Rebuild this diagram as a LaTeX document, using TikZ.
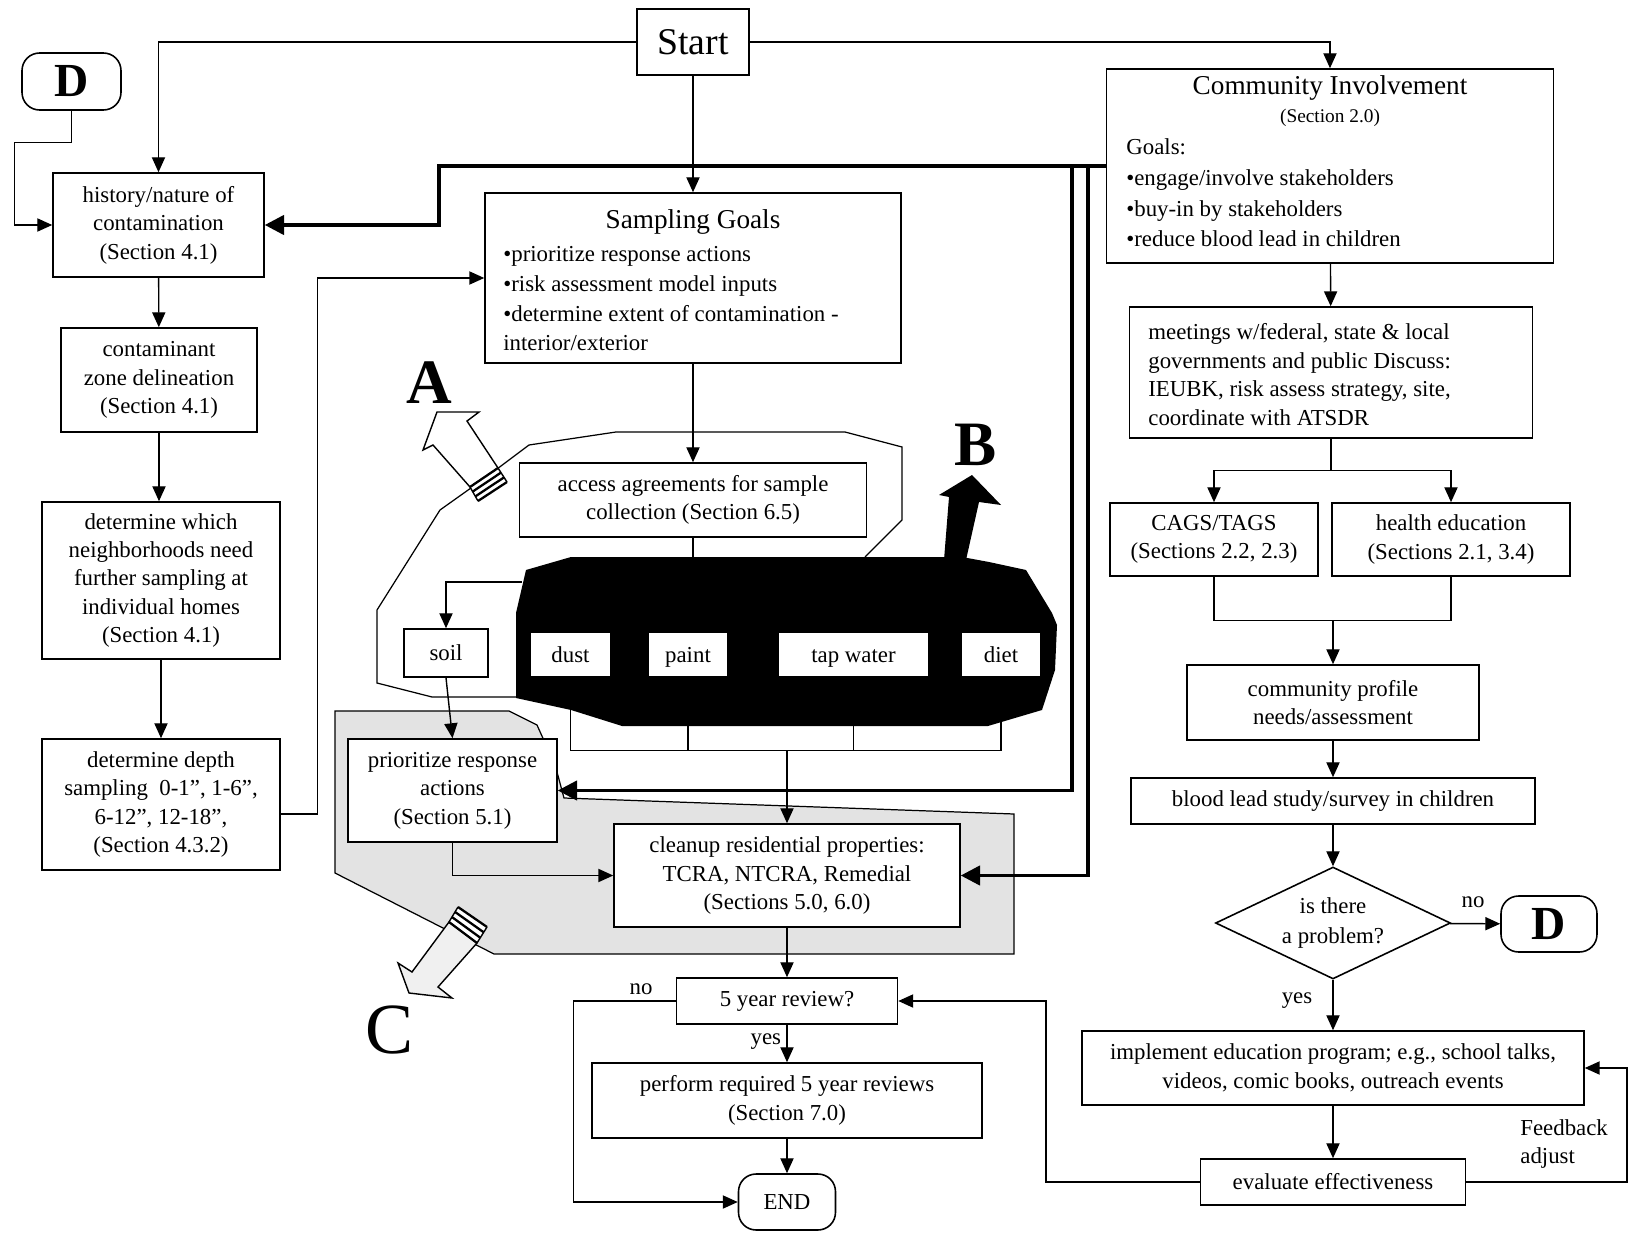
\documentclass[tikz,border=0pt]{standalone}
\usepackage{fontspec}
\setmainfont{Liberation Serif}
\usetikzlibrary{arrows.meta, positioning, shapes.geometric, calc}

\begin{document}
\begin{tikzpicture}[x=0.02cm, y=-0.02cm,
    font=\fontsize{13}{16.2}\selectfont,
    box/.style={draw, line width=0.9pt, fill=white, align=center, inner sep=1pt},
    media/.style={box, minimum height=0.9cm, text height=2.0ex, text depth=0.1ex},
    term/.style={box, rounded corners=10pt},
    txt/.style={inner sep=0pt, align=left},
    title/.style={inner sep=0pt, font=\fontsize{15.5}{18}\selectfont},
    letter/.style={inner sep=0pt, font=\fontsize{36}{36}\selectfont\bfseries},
    arr/.style={-{Triangle[length=8.5pt, width=7.5pt]}, line width=0.8pt},
    thickarr/.style={-{Triangle[length=11pt, width=11pt]}, line width=2pt},
    link/.style={line width=0.8pt},
    lbl/.style={inner sep=1pt}]

    \useasboundingbox (0,0) rectangle (1630,1233);

    % Shaded cleanup area (C)
    \draw[line width=0.7pt, fill=black!11] (335,711) -- (509,711) -- (537,725) -- (546,745) -- (557,772) -- (564,798)
        -- (1014,814) -- (1014,954) -- (494,954) -- (335,873) -- cycle;

    % Sampling area outline (A)
    \draw[line width=0.7pt] (865,557) -- (902,520) -- (902,447) -- (845,432) -- (616,432) -- (529,445) -- (485,478)
        -- (440,510) -- (377,610) -- (377,683) -- (432,697) -- (516,697);

    % Black media area (B)
    \fill (526,570) -- (571,557) -- (962,557) -- (989,562) -- (1026,570) -- (1052,613) -- (1057,625) -- (1055,670)
        -- (1042,710) -- (988,726) -- (622,726) -- (571,710) -- (516,698) -- (516,613) -- cycle;
    \fill (944,560) -- (949,497) -- (939,495) -- (972,475) -- (1001,505) -- (979,502) -- (966,560) -- cycle;

    % Block arrow A
    \draw[line width=0.8pt, fill=white] (470,487) -- (433,445) -- (423,450) -- (437,412) -- (479,412) -- (467,421) -- (498,468) -- cycle;
    \coordinate (a1) at (470,487);
    \coordinate (a2) at (498,468);
    \coordinate (a3) at (478,501);
    \coordinate (a4) at (507,482);
    \fill[white] (a1) -- (a2) -- (a4) -- (a3) -- cycle;
    \foreach \t in {0,0.33,0.67,1}
        \draw[line width=1.3pt] ($(a1)!\t!(a3)$) -- ($(a2)!\t!(a4)$);
    \draw[line width=0.8pt] (a1) -- (a3) (a2) -- (a4);

    % Block arrow C
    \draw[line width=0.8pt, fill=black!6] (449,922) -- (412,972) -- (398,963) -- (409,993) -- (452,998) -- (438,987) -- (477,943) -- cycle;
    \coordinate (c1) at (449,922);
    \coordinate (c2) at (477,943);
    \coordinate (c3) at (458,907);
    \coordinate (c4) at (487,927);
    \fill[white] (c1) -- (c2) -- (c4) -- (c3) -- cycle;
    \foreach \t in {0,0.33,0.67,1}
        \draw[line width=1.3pt] ($(c1)!\t!(c3)$) -- ($(c2)!\t!(c4)$);
    \draw[line width=0.8pt] (c1) -- (c3) (c2) -- (c4);

    % Area letters
    \node[letter] (la) at (429,383) {A};
    \node[letter] (lb) at (976,445) {B};
    \node[inner sep=0pt, font=\fontsize{41}{41}\selectfont] (lc) at (390,1030) {C};

    % Start and left column
    \node[box, minimum width=2.24cm, minimum height=1.32cm, font=\fontsize{21.5}{24}\selectfont] (start) at (693,42) {Start};
    \node[term, minimum width=1.98cm, minimum height=1.14cm, font=\fontsize{27}{27}\selectfont\bfseries] (d1) at (71.5,81.5) {D};
    \node[box, minimum width=4.22cm, minimum height=2.08cm] (hist) at (158.5,225) {history/nature of\\contamination\\(Section 4.1)};
    \node[box, minimum width=3.92cm, minimum height=2.08cm] (cont) at (159,380) {contaminant\\zone delineation\\(Section 4.1)};
    \node[box, minimum width=4.76cm, minimum height=3.14cm] (which) at (161,580.5) {determine which\\neighborhoods need\\further sampling at\\individual homes\\(Section 4.1)};
    \node[box, minimum width=4.76cm, minimum height=2.62cm] (depth) at (161,804.5) {determine depth\\sampling\ \ 0-1'', 1-6'',\\6-12'', 12-18'',\\(Section 4.3.2)};

    % Sampling goals
    \node[box, minimum width=8.32cm, minimum height=3.4cm] (sg) at (693,278) {};
    \node[title] (sgtitle) at (693,222) {Sampling Goals};
    \node[txt, anchor=west, font=\fontsize{13}{16.9}\selectfont] (sgitems) at (503,299)
        {•prioritize response actions\\•risk assessment model inputs\\•determine extent of contamination -\\interior/exterior};

    % Sampling steps
    \node[box, minimum width=6.94cm, minimum height=1.48cm] (access) at (693,500) {access agreements for sample\\collection (Section 6.5)};
    \node[media, minimum width=1.68cm, minimum height=0.96cm] (soil) at (446,653) {soil};
    \node[media, minimum width=1.62cm] (dust) at (570.5,654.5) {dust};
    \node[media, minimum width=1.6cm] (paint) at (688,654.5) {paint};
    \node[media, minimum width=3.02cm] (tap) at (853.5,654.5) {tap water};
    \node[media, minimum width=1.6cm] (diet) at (1001,654.5) {diet};
    \node[box, minimum width=4.18cm, minimum height=2.06cm] (prio) at (452.5,790.5) {prioritize response\\actions\\(Section 5.1)};
    \node[box, minimum width=6.92cm, minimum height=2.06cm] (clean) at (787,875.5) {cleanup residential properties:\\TCRA, NTCRA, Remedial\\(Sections 5.0, 6.0)};
    \node[box, minimum width=4.42cm, minimum height=0.92cm] (review) at (787,1001) {5 year review?};
    \node[box, minimum width=7.8cm, minimum height=1.5cm] (perform) at (787,1100.5) {perform required 5 year reviews\\(Section 7.0)};
    \node[term, minimum width=1.94cm, minimum height=1.12cm] (finish) at (787,1202) {END};

    % Community involvement column
    \node[box, minimum width=8.94cm, minimum height=3.88cm] (ci) at (1330,166) {};
    \node[title] (cititle) at (1330,88) {Community Involvement};
    \node[inner sep=0pt, font=\fontsize{11}{12}\selectfont] (cisec) at (1330,118) {(Section 2.0)};
    \node[txt, anchor=west, font=\fontsize{13}{17.5}\selectfont] (ciitems) at (1126,193)
        {Goals:\\•engage/involve stakeholders\\•buy-in by stakeholders\\•reduce blood lead in children};
    \node[box, minimum width=8.06cm, minimum height=2.62cm] (meet) at (1331,372.5) {};
    \node[txt, anchor=west] (meettext) at (1148,374.5)
        {meetings w/federal, state \& local\\governments and public Discuss:\\IEUBK, risk assess strategy, site,\\coordinate with ATSDR};
    \node[box, minimum width=4.16cm, minimum height=1.46cm] (cags) at (1214,539.5) {CAGS/TAGS\\(Sections 2.2, 2.3)};
    \node[box, minimum width=4.76cm, minimum height=1.46cm] (health) at (1451,539.5) {health education\\(Sections 2.1, 3.4)};
    \node[box, minimum width=5.84cm, minimum height=1.5cm] (prof) at (1333,702.5) {community profile\\needs/assessment};
    \node[box, minimum width=8.08cm, minimum height=0.92cm] (blood) at (1333,801) {blood lead study/survey in children};
    \node[draw, line width=0.9pt, fill=white, shape=diamond, aspect=2.1, inner sep=0pt, align=center,
        minimum width=4.7cm, minimum height=2.24cm, font=\fontsize{13}{17}\selectfont] (prob) at (1333,923) {is there\\a problem?};
    \node[term, minimum width=1.92cm, minimum height=1.12cm, font=\fontsize{27}{27}\selectfont\bfseries] (d2) at (1549,924) {D};
    \node[box, minimum width=10.04cm, minimum height=1.48cm] (impl) at (1333,1068) {implement education program; e.g., school talks,\\videos, comic books, outreach events};
    \node[box, minimum width=5.3cm, minimum height=0.92cm] (eval) at (1333,1182) {evaluate effectiveness};

    % Connectors from Start
    \draw[arr] (start.west) -| (hist.north);
    \draw[arr] (start.east) -| (ci.north);
    \draw[arr] (start) -- (sg);
    \draw[arr] (d1.south) -- ++(0,32) -- ++(-57,0) |- (hist.west);

    % Left column
    \draw[arr] (hist) -- (cont);
    \draw[arr] (cont.south) -- (cont.south |- which.north);
    \draw[arr] (which) -- (depth);
    \draw[arr] ([yshift=-5.4pt]depth.east) -- ++(37,0) |- (sg.west);

    % Thick lines from community involvement
    \coordinate (j1) at (1072,166);
    \coordinate (j2) at (1088,166);
    \draw[thickarr] (ci.west) -| (439,225) -- (hist.east);
    \draw[thickarr] (j1) |- (prio.east);
    \draw[thickarr] (j2) |- (clean.east);

    % Sampling and cleanup
    \coordinate (btop) at (693,557);
    \coordinate (bleft) at (522,582);
    \coordinate (bar) at (787,750);
    \draw[arr] (sg) -- (access);
    \draw[link] (access) -- (btop);
    \draw[arr] (bleft) -| (soil.north);
    \draw[arr] (soil.south) -- (prio.north);
    \draw[link] (dust.south) -- ++(0,73) -| (diet.south);
    \draw[link] (paint.south) -- ++(0,73);
    \draw[link] (tap.south) -- ++(0,73);
    \draw[arr] (bar) -- (clean);
    \draw[arr] (prio.south) |- (clean.west);
    \draw[arr] (clean) -- (review);
    \draw[arr] (review) -- (perform) node[lbl, pos=0.45, left=2pt] (yes1) {yes};
    \draw[arr] (perform) -- (finish);
    \draw[arr] (review.west) -- ++(-102,0) |- (finish.west);
    \node[lbl] (no1) at (641,989) {no};

    % Community involvement steps
    \draw[arr] (ci) -- (meet);
    \draw[arr] (meet.south) -- ++(0,32) -| (cags.north);
    \draw[arr] (meet.south) ++(0,32) -| (health.north);
    \coordinate (merge) at (1333,620);
    \draw[link] (cags.south) -- ++(0,44) -| (health.south);
    \draw[arr] (merge) -- (prof);
    \draw[arr] (prof) -- (blood);
    \draw[arr] (blood) -- (prob);
    \draw[arr] (prob) -- (impl);
    \node[lbl] (yes2) at (1297,1001) {yes};
    \draw[arr] (prob) -- (d2);
    \node[lbl] (no2) at (1473,902) {no};
    \draw[arr] (impl) -- (eval);
    \draw[arr] (eval.east) -- (1627,1182) |- (impl.east);
    \node[txt, anchor=west] (fb) at (1520,1144) {Feedback\\adjust};
    \draw[arr] (eval.west) -| (1046,1001) -- (review.east);
\end{tikzpicture}
\end{document}
